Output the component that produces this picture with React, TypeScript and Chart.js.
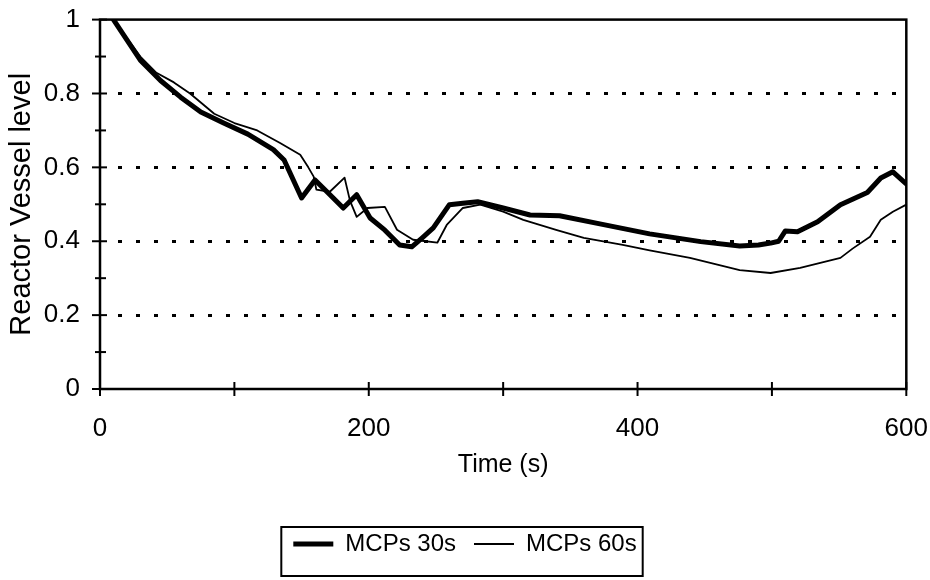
import { useEffect, useRef } from "react";
import { Chart, registerables } from "chart.js";

Chart.register(...registerables);

const SERIES_LABELS = ["MCPs 30s", "MCPs 60s"];

const TIME_30 = [10, 20, 30, 45, 60, 75, 92, 110, 129, 137, 150, 160, 170, 181, 191, 201, 212, 223, 232, 240, 248, 260, 270, 281, 300, 320, 342, 372, 409, 447, 476, 490, 499, 505, 510, 519, 534, 551, 571, 581, 590, 600];
const LEVEL_30 = [1.0, 0.945, 0.89, 0.835, 0.79, 0.75, 0.72, 0.69, 0.648, 0.62, 0.517, 0.566, 0.53, 0.49, 0.526, 0.463, 0.43, 0.39, 0.385, 0.41, 0.436, 0.499, 0.503, 0.507, 0.49, 0.471, 0.469, 0.447, 0.42, 0.399, 0.387, 0.39, 0.395, 0.4, 0.428, 0.426, 0.453, 0.499, 0.532, 0.571, 0.588, 0.555];

const TIME_60 = [10, 20, 30, 42, 55, 67, 85, 100, 117, 134, 149, 155, 159, 161, 171, 182, 186, 191, 199, 212, 221, 233, 251, 258, 270, 283, 300, 315, 340, 360, 389, 409, 439, 476, 499, 521, 551, 560, 573, 581, 590, 600];
const LEVEL_60 = [1.0, 0.95, 0.9, 0.856, 0.83, 0.8, 0.745, 0.72, 0.7, 0.666, 0.634, 0.6, 0.575, 0.54, 0.534, 0.572, 0.51, 0.466, 0.49, 0.493, 0.431, 0.404, 0.396, 0.444, 0.49, 0.499, 0.48, 0.458, 0.43, 0.409, 0.39, 0.375, 0.355, 0.322, 0.314, 0.328, 0.355, 0.38, 0.412, 0.458, 0.48, 0.499];

const X_LABELLED = [0, 200, 400, 600];
const Y_LABELLED = [0, 0.2, 0.4, 0.6, 0.8, 1];
const Y_GRID = [0.2, 0.4, 0.6, 0.8];

const FONT = "Arial, 'Liberation Sans', Helvetica, sans-serif";

const framePlugin = {
  id: "frame",
  beforeDatasetsDraw(chart: any) {
    const { ctx, chartArea } = chart;
    const y = chart.scales.y;
    ctx.save();
    ctx.strokeStyle = "#000";
    ctx.lineWidth = 3;
    ctx.setLineDash([4, 14]);
    for (const v of Y_GRID) {
      const py = Math.round(y.getPixelForValue(v)) + 0.5;
      ctx.beginPath();
      ctx.moveTo(chartArea.left + 18, py);
      ctx.lineTo(chartArea.right - 6, py);
      ctx.stroke();
    }
    ctx.restore();
  },
  afterDatasetsDraw(chart: any) {
    const { ctx, chartArea } = chart;
    const x = chart.scales.x;
    const y = chart.scales.y;
    ctx.save();
    ctx.strokeStyle = "#000";
    ctx.setLineDash([]);
    ctx.lineWidth = 2.5;
    ctx.strokeRect(chartArea.left, chartArea.top, chartArea.right - chartArea.left, chartArea.bottom - chartArea.top);
    ctx.lineWidth = 2;
    for (const t of y.ticks) {
      const major = Math.round(t.value * 10) % 2 === 0;
      const py = y.getPixelForValue(t.value);
      const len = major ? 8 : 5;
      ctx.beginPath();
      ctx.moveTo(chartArea.left - len, py);
      ctx.lineTo(chartArea.left + (major ? 7 : 6), py);
      ctx.stroke();
    }
    for (const t of x.ticks) {
      const px = x.getPixelForValue(t.value);
      ctx.beginPath();
      ctx.moveTo(px, chartArea.bottom - 7);
      ctx.lineTo(px, chartArea.bottom + 7);
      ctx.stroke();
    }
    ctx.restore();
  },
  afterDraw(chart: any) {
    const lg = chart.legend;
    if (!lg || !lg.legendHitBoxes || !lg.legendHitBoxes.length) return;
    const boxes = lg.legendHitBoxes;
    let l = Infinity, r = -Infinity, t = Infinity, b = -Infinity;
    for (const h of boxes) {
      l = Math.min(l, h.left);
      r = Math.max(r, h.left + h.width);
      t = Math.min(t, h.top);
      b = Math.max(b, h.top + h.height);
    }
    const { ctx } = chart;
    ctx.save();
    ctx.strokeStyle = "#000";
    ctx.lineWidth = 2;
    ctx.strokeRect(l - 12, t - 5, r - l + 18, b - t + 25);
    ctx.restore();
  },
};

export default function App() {
  const ref = useRef<HTMLCanvasElement | null>(null);

  useEffect(() => {
    if (!ref.current) return;
    const chart = new Chart(ref.current, {
      type: "line",
      data: {
        datasets: [
          {
            label: SERIES_LABELS[0],
            data: TIME_30.map((t, i) => ({ x: t, y: LEVEL_30[i] })),
            borderColor: "#000",
            backgroundColor: "#000",
            borderWidth: 5,
            pointRadius: 0,
            tension: 0,
            borderJoinStyle: "round",
            borderCapStyle: "round",
          },
          {
            label: SERIES_LABELS[1],
            data: TIME_60.map((t, i) => ({ x: t, y: LEVEL_60[i] })),
            borderColor: "#000",
            backgroundColor: "#000",
            borderWidth: 1.8,
            pointRadius: 0,
            tension: 0,
            borderJoinStyle: "round",
          },
        ],
      },
      options: {
        animation: false,
        responsive: false,
        maintainAspectRatio: false,
        layout: { padding: { left: 0, right: 0, top: 5, bottom: 14 } },
        plugins: {
          tooltip: { enabled: false },
          legend: {
            position: "bottom",
            labels: {
              usePointStyle: true,
              pointStyle: "line",
              pointStyleWidth: 40,
              padding: 18,
              color: "#000",
              font: { family: FONT, size: 24 },
            },
          },
        },
        scales: {
          x: {
            type: "linear",
            min: 0,
            max: 600,
            grid: { display: false, drawTicks: true, tickLength: 22 },
            border: { display: false },
            ticks: {
              stepSize: 100,
              autoSkip: false,
              maxRotation: 0,
              padding: 2,
              color: "#000",
              font: { family: FONT, size: 26 },
              callback: (v: any) => (X_LABELLED.includes(Number(v)) ? String(v) : ""),
            },
            title: {
              display: true,
              text: "Time (s)",
              color: "#000",
              font: { family: FONT, size: 25 },
              padding: { top: 0, bottom: 34 },
            },
            afterFit: (s: any) => {
              s.height = 125;
            },
          },
          y: {
            type: "linear",
            min: 0,
            max: 1,
            grid: { display: false, drawTicks: true, tickLength: 16 },
            border: { display: false },
            ticks: {
              stepSize: 0.1,
              autoSkip: false,
              padding: 4,
              color: "#000",
              font: { family: FONT, size: 26 },
              callback: (v: any) => {
                const n = Math.round(Number(v) * 10) / 10;
                return Y_LABELLED.some((y) => Math.abs(y - n) < 1e-9) ? String(n) : "";
              },
            },
            title: {
              display: true,
              text: "Reactor Vessel level",
              color: "#000",
              font: { family: FONT, size: 29 },
              padding: { top: 5, bottom: 0 },
            },
            afterFit: (s: any) => {
              s.width = 100;
            },
          },
        },
      },
      plugins: [framePlugin],
    } as any);
    return () => chart.destroy();
  }, []);

  return (
    <div style={{ position: "absolute", left: 0, top: 0, width: 930, height: 580, background: "#fff" }}>
      <canvas ref={ref} width={930} height={580} style={{ width: 930, height: 580 }} />
    </div>
  );
}
